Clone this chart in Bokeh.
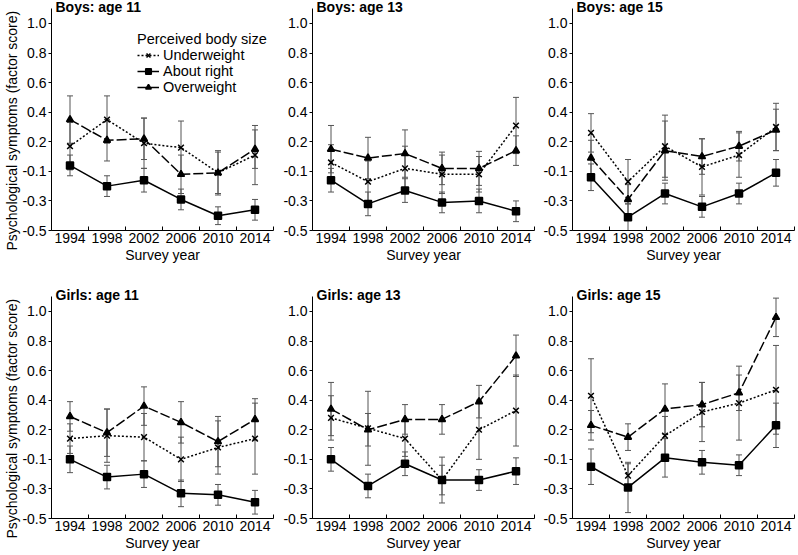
from bokeh.plotting import figure
from bokeh.layouts import gridplot
from bokeh.models import (Range1d, FixedTicker, Label, Legend, LegendItem, Title,
                          Whisker, ColumnDataSource, TeeHead)
from bokeh.embed import file_html
from bokeh.resources import INLINE

years = [1994, 1998, 2002, 2006, 2010, 2014]
year_bounds = [1992, 1996, 2000, 2004, 2008, 2012, 2016]
y_ticks = [-0.4, -0.2, 0.0, 0.2, 0.4, 0.6, 0.8, 1.0]
y_tick_labels = ["-0.5", "-0.3", "-0.1", "0.2", "0.4", "0.6", "0.8", "1.0"]
series_names = ["Underweight", "About right", "Overweight"]
panel_titles = ["Boys: age 11", "Boys: age 13", "Boys: age 15",
                "Girls: age 11", "Girls: age 13", "Girls: age 15"]
y_title = "Psychological symptoms (factor score)"
x_title = "Survey year"
legend_title = "Perceived body size"

# Boys 11
b11_under = [0.17, 0.35, 0.19, 0.16, -0.01, 0.11]
b11_under_ci = [0.16, 0.16, 0.17, 0.18, 0.15, 0.20]
b11_right = [0.04, -0.10, -0.06, -0.19, -0.30, -0.26]
b11_right_ci = [0.07, 0.07, 0.08, 0.07, 0.06, 0.07]
b11_over = [0.35, 0.21, 0.22, -0.02, -0.01, 0.15]
b11_over_ci = [0.16, 0.14, 0.14, 0.13, 0.14, 0.13]
# Boys 13
b13_under = [0.06, -0.07, 0.02, -0.02, -0.02, 0.31]
b13_under_ci = [0.12, 0.14, 0.15, 0.13, 0.12, 0.19]
b13_right = [-0.06, -0.22, -0.13, -0.21, -0.20, -0.27]
b13_right_ci = [0.08, 0.08, 0.08, 0.07, 0.08, 0.07]
b13_over = [0.15, 0.09, 0.12, 0.02, 0.02, 0.14]
b13_over_ci = [0.16, 0.14, 0.16, 0.11, 0.115, 0.10]
# Boys 15
b15_under = [0.26, -0.07, 0.17, 0.03, 0.11, 0.30]
b15_under_ci = [0.13, 0.15, 0.21, 0.19, 0.15, 0.16]
b15_right = [-0.04, -0.31, -0.15, -0.24, -0.15, -0.01]
b15_right_ci = [0.09, 0.09, 0.07, 0.07, 0.07, 0.09]
b15_over = [0.09, -0.19, 0.14, 0.10, 0.17, 0.28]
b15_over_ci = [0.12, 0.10, 0.20, 0.12, 0.10, 0.14]
# Girls 11
g11_under = [0.14, 0.16, 0.15, 0.00, 0.08, 0.14]
g11_under_ci = [0.10, 0.18, 0.16, 0.15, 0.18, 0.24]
g11_right = [0.00, -0.12, -0.10, -0.23, -0.24, -0.29]
g11_right_ci = [0.09, 0.08, 0.09, 0.09, 0.07, 0.08]
g11_over = [0.29, 0.18, 0.36, 0.25, 0.12, 0.27]
g11_over_ci = [0.10, 0.16, 0.13, 0.14, 0.17, 0.14]
# Girls 13
g13_under = [0.28, 0.21, 0.14, -0.14, 0.20, 0.33]
g13_under_ci = [0.15, 0.25, 0.12, 0.155, 0.20, 0.24]
g13_right = [0.00, -0.18, -0.03, -0.14, -0.14, -0.08]
g13_right_ci = [0.08, 0.08, 0.08, 0.10, 0.07, 0.09]
g13_over = [0.34, 0.20, 0.27, 0.27, 0.39, 0.70]
g13_over_ci = [0.18, 0.11, 0.10, 0.10, 0.11, 0.14]
# Girls 15
g15_under = [0.43, -0.11, 0.16, 0.32, 0.38, 0.47]
g15_under_ci = [0.25, 0.08, 0.13, 0.20, 0.25, 0.30]
g15_right = [-0.05, -0.19, 0.01, -0.02, -0.04, 0.23]
g15_right_ci = [0.12, 0.17, 0.13, 0.08, 0.07, 0.15]
g15_over = [0.23, 0.15, 0.34, 0.37, 0.45, 0.96]
g15_over_ci = [0.10, 0.09, 0.17, 0.15, 0.12, 0.13]

panels = [
    [(b11_under, b11_under_ci), (b11_right, b11_right_ci), (b11_over, b11_over_ci)],
    [(b13_under, b13_under_ci), (b13_right, b13_right_ci), (b13_over, b13_over_ci)],
    [(b15_under, b15_under_ci), (b15_right, b15_right_ci), (b15_over, b15_over_ci)],
    [(g11_under, g11_under_ci), (g11_right, g11_right_ci), (g11_over, g11_over_ci)],
    [(g13_under, g13_under_ci), (g13_right, g13_right_ci), (g13_over, g13_over_ci)],
    [(g15_under, g15_under_ci), (g15_right, g15_right_ci), (g15_over, g15_over_ci)],
]

FONT = "Liberation Sans"
FS = "14px"
FS_LEG = "14.5px"
FRAME_W = 222
FRAME_H = 230

styles = [
    dict(dash="2 2", marker="x", size=8),
    dict(dash="solid", marker="square", size=7),
    dict(dash="10 3", marker="triangle", size=7),
]


def make_panel(idx):
    col = idx % 3
    row = idx // 3
    left = 51 if col == 0 else 37
    right = [2, 1, 2][col]
    bottom = 58 if row == 0 else 35
    p = figure(frame_width=FRAME_W, frame_height=FRAME_H,
               x_range=Range1d(1992, 2016), y_range=Range1d(-0.4, 1.155),
               output_backend="svg", toolbar_location=None,
               min_border_left=left, min_border_right=right,
               min_border_top=0, min_border_bottom=bottom)
    p.outline_line_color = None
    p.xgrid.visible = False
    p.ygrid.visible = False

    xa = p.xaxis[0]
    xa.ticker = FixedTicker(ticks=years, minor_ticks=year_bounds)
    xa.major_tick_in = 0
    xa.major_tick_out = 0
    xa.minor_tick_in = 4
    xa.minor_tick_out = 0
    xa.minor_tick_line_color = "black"
    xa.axis_line_color = "black"
    xa.major_label_text_font = FONT
    xa.major_label_text_font_size = FS
    xa.major_label_text_color = "black"
    xa.major_label_standoff = 2
    xa.axis_label = x_title
    xa.axis_label_text_font = FONT
    xa.axis_label_text_font_size = FS
    xa.axis_label_text_font_style = "normal"
    xa.axis_label_text_color = "black"
    xa.axis_label_standoff = 1

    ya = p.yaxis[0]
    ya.ticker = FixedTicker(ticks=y_ticks, minor_ticks=[])
    ya.major_label_overrides = {t: l for t, l in zip(y_ticks, y_tick_labels)}
    ya.bounds = (-0.4, 1.1)
    ya.major_tick_in = 0
    ya.major_tick_out = 3
    ya.minor_tick_line_color = None
    ya.axis_line_color = "black"
    ya.major_label_text_font = FONT
    ya.major_label_text_font_size = FS
    ya.major_label_text_color = "black"
    ya.major_label_standoff = 2

    if col == 0:
        p.add_layout(Title(text=y_title, align="left", offset=-20, standoff=0,
                           text_font=FONT, text_font_size=FS,
                           text_font_style="normal", text_color="black"), "left")

    items = []
    for (vals, ci), st, name in zip(panels[idx], styles, series_names):
        src = ColumnDataSource(dict(
            x=years, y=vals,
            upper=[v + c for v, c in zip(vals, ci)],
            lower=[v - c for v, c in zip(vals, ci)]))
        w = Whisker(source=src, base="x", upper="upper", lower="lower",
                    line_color="#555555", line_width=1,
                    upper_head=TeeHead(size=6, line_color="#555555", line_width=1),
                    lower_head=TeeHead(size=6, line_color="#555555", line_width=1))
        p.add_layout(w)
        ln = p.line("x", "y", source=src, line_color="black", line_width=1.5,
                    line_dash=st["dash"])
        sc = p.scatter("x", "y", source=src, marker=st["marker"], size=st["size"],
                       line_color="black", fill_color="black", line_width=1.5)
        items.append(LegendItem(label=name, renderers=[ln, sc]))

    p.add_layout(Label(x=4, y=FRAME_H - 6, x_units="screen", y_units="screen",
                       text=panel_titles[idx], text_font=FONT, text_font_size=FS,
                       text_font_style="bold", text_color="black",
                       text_baseline="alphabetic", text_align="left"))

    if idx == 0:
        leg = Legend(items=items, location=(86, 135), title=legend_title,
                     title_text_font=FONT, title_text_font_size=FS_LEG,
                     title_text_font_style="normal", title_text_color="black",
                     title_standoff=0,
                     label_text_font=FONT, label_text_font_size=FS_LEG,
                     label_text_color="black",
                     border_line_color=None, background_fill_alpha=0,
                     padding=0, margin=0, spacing=0, label_height=14,
                     glyph_height=14, glyph_width=22, label_standoff=4)
        p.add_layout(leg)
    return p


figs = [make_panel(i) for i in range(6)]
grid = gridplot([figs[0:3], figs[3:6]], toolbar_location=None)

open("out.html", "w").write(file_html(grid, INLINE))
